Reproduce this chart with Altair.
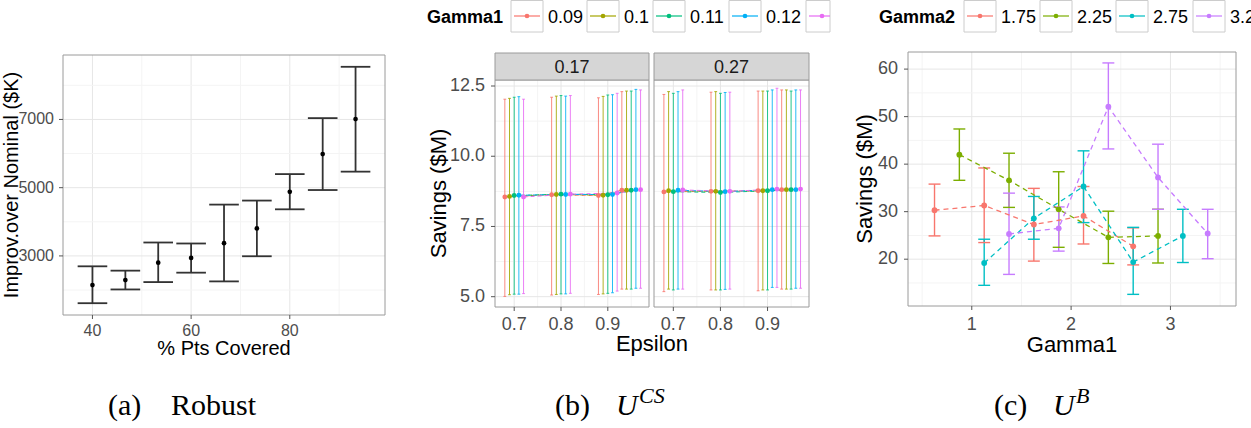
import altair as alt
import pandas as pd

# ======================= DATA =======================
# (a) Robust
a_pct_covered = [40, 46.67, 53.33, 60, 66.67, 73.33, 80, 86.67, 93.33]
a_mean = [2145, 2292, 2803, 2941, 3373, 3806, 4877, 5986, 7010]
a_low = [1614, 2017, 2233, 2509, 2253, 2990, 4366, 4931, 5470]
a_high = [2695, 2568, 3393, 3364, 4504, 4622, 5398, 7039, 8543]
a_xticks = [40, 60, 80]
a_yticks = [3000, 5000, 7000]

# (b) U^CS  (rows: Gamma1 level, columns: Epsilon)
b_epsilon = [0.7, 0.8, 0.9, 0.95]
b_gamma1 = ["0.09", "0.1", "0.11", "0.12", "0.13"]
b_facets = ["0.17", "0.27"]
b_mean_017 = [[8.55, 8.63, 8.60, 8.79], [8.57, 8.64, 8.61, 8.79], [8.60, 8.65, 8.63, 8.79],
              [8.61, 8.64, 8.64, 8.81], [8.55, 8.65, 8.69, 8.81]]
b_low_017 = [[5.01, 5.06, 5.08, 5.27], [5.07, 5.08, 5.10, 5.27], [5.09, 5.10, 5.12, 5.27],
             [5.09, 5.10, 5.14, 5.30], [5.11, 5.12, 5.20, 5.30]]
b_high_017 = [[12.03, 12.10, 12.08, 12.30], [12.06, 12.14, 12.13, 12.32], [12.10, 12.16, 12.18, 12.32],
              [12.12, 12.14, 12.19, 12.38], [12.03, 12.16, 12.24, 12.36]]
b_mean_027 = [[8.73, 8.75, 8.77, 8.81], [8.77, 8.75, 8.77, 8.81], [8.74, 8.71, 8.77, 8.81],
              [8.79, 8.74, 8.81, 8.81], [8.80, 8.75, 8.83, 8.83]]
b_low_027 = [[5.18, 5.24, 5.21, 5.27], [5.27, 5.24, 5.24, 5.27], [5.24, 5.24, 5.24, 5.27],
             [5.27, 5.26, 5.33, 5.30], [5.27, 5.27, 5.33, 5.30]]
b_high_027 = [[12.20, 12.28, 12.32, 12.36], [12.30, 12.30, 12.32, 12.36], [12.24, 12.24, 12.32, 12.32],
              [12.30, 12.27, 12.36, 12.36], [12.36, 12.28, 12.42, 12.36]]
b_xticks = [0.7, 0.8, 0.9]
b_yticks = [5.0, 7.5, 10.0, 12.5]

# (c) U^B  (one list per Gamma2 level; Gamma1 positions as plotted)
c_gamma2 = ["1.75", "2.25", "2.75", "3.25"]
c_gamma1 = [[0.625, 1.125, 1.625, 2.125, 2.625], [0.875, 1.375, 1.875, 2.375, 2.875],
            [1.125, 1.625, 2.125, 2.625, 3.125], [1.375, 1.875, 2.375, 2.875, 3.375]]
c_mean = [[30.3, 31.3, 27.3, 29.1, 22.7], [42.0, 36.6, 30.5, 24.6, 24.9],
          [19.2, 28.6, 35.3, 19.4, 24.9], [25.3, 26.5, 52.1, 37.2, 25.4]]
c_low = [[24.9, 23.5, 19.6, 23.2, 18.8], [36.6, 30.9, 22.5, 19.1, 19.2],
         [14.5, 24.2, 27.7, 12.6, 19.3], [16.8, 21.7, 43.2, 30.5, 20.1]]
c_high = [[35.8, 39.2, 34.9, 35.3, 26.6], [47.4, 42.3, 38.4, 30.1, 30.5],
          [24.2, 33.2, 42.8, 26.7, 30.5], [33.9, 31.0, 61.3, 44.2, 30.5]]
c_xticks = [1, 2, 3]
c_yticks = [20, 30, 40, 50, 60]

# ======================= STYLE / LAYOUT =======================
FONT = "Liberation Sans"
SERIF = "Liberation Serif"
PAL_B = ["#F8766D", "#A3A500", "#00BF7D", "#00B0F6", "#E76BF3"]
PAL_C = ["#F8766D", "#7CAE00", "#00BFC4", "#C77CFF"]
GRID_MAJ = "#E6E6E6"
GRID_MIN = "#F4F4F4"
FRAME = "#9A9A9A"
TICK = "#555555"
TXT = "#4D4D4D"

BOX_A = dict(left=63, right=385, top=55, bottom=315)
BOX_BL = dict(left=495, right=649, top=80, bottom=307)
BOX_BR = dict(left=654, right=809, top=80, bottom=307)
BOX_C = dict(left=908, right=1236, top=52, bottom=306)


def lin(dom, rng):
    return alt.Scale(domain=list(dom), range=list(rng), nice=False, zero=False)


def one_row():
    return pd.DataFrame({"k": [0]})


def text(t, x, y, fs, color="black", angle=0, align="center", weight="normal",
         font=FONT, style="normal", baseline="alphabetic"):
    return alt.Chart(pd.DataFrame({"t": [t]})).mark_text(
        font=font, fontSize=fs, color=color, angle=angle, align=align,
        fontWeight=weight, fontStyle=style, baseline=baseline
    ).encode(x=alt.value(x), y=alt.value(y), text="t:N")


def grid(box, xs, ys, xmaj, xmin, ymaj, ymin):
    L = []
    for vals, col in ((xmin, GRID_MIN), (xmaj, GRID_MAJ)):
        L.append(alt.Chart(pd.DataFrame({"gx": vals})).mark_rule(color=col, strokeWidth=1).encode(
            x=alt.X("gx:Q", scale=xs, axis=None),
            y=alt.value(box["top"]), y2=alt.value(box["bottom"])))
    for vals, col in ((ymin, GRID_MIN), (ymaj, GRID_MAJ)):
        L.append(alt.Chart(pd.DataFrame({"gy": vals})).mark_rule(color=col, strokeWidth=1).encode(
            y=alt.Y("gy:Q", scale=ys, axis=None),
            x=alt.value(box["left"]), x2=alt.value(box["right"])))
    return L


def frame(box):
    return alt.Chart(one_row()).mark_rect(fillOpacity=0, stroke=FRAME, strokeWidth=1).encode(
        x=alt.value(box["left"]), x2=alt.value(box["right"]),
        y=alt.value(box["top"]), y2=alt.value(box["bottom"]))


def x_axis(box, xs, vals, labels, fs, base):
    df = pd.DataFrame({"tv": vals, "tl": labels})
    t = alt.Chart(df).mark_rule(color=TICK, strokeWidth=1).encode(
        x=alt.X("tv:Q", scale=xs, axis=None),
        y=alt.value(box["bottom"]), y2=alt.value(box["bottom"] + 4))
    l = alt.Chart(df).mark_text(font=FONT, fontSize=fs, color=TXT, align="center",
                                baseline="alphabetic").encode(
        x=alt.X("tv:Q", scale=xs, axis=None), y=alt.value(base), text="tl:N")
    return [t, l]


def y_axis(box, ys, vals, labels, fs, right):
    df = pd.DataFrame({"tv": vals, "tl": labels})
    t = alt.Chart(df).mark_rule(color=TICK, strokeWidth=1).encode(
        y=alt.Y("tv:Q", scale=ys, axis=None),
        x=alt.value(box["left"] - 4), x2=alt.value(box["left"]))
    l = alt.Chart(df).mark_text(font=FONT, fontSize=fs, color=TXT, align="right",
                                baseline="middle").encode(
        y=alt.Y("tv:Q", scale=ys, axis=None), x=alt.value(right), text="tl:N")
    return [t, l]


def errorbars(df, xf, xs, ys, colorenc, half, width, opacity=1.0, static_color=None):
    kw = dict(strokeWidth=width, opacity=opacity)
    if static_color:
        kw["color"] = static_color
    enc_c = {} if colorenc is None else {"color": colorenc}
    base = alt.Chart(df).transform_calculate(
        c0=f"datum.{xf} - {half}", c1=f"datum.{xf} + {half}")
    bar = base.mark_rule(**kw).encode(
        x=alt.X(f"{xf}:Q", scale=xs, axis=None),
        y=alt.Y("low:Q", scale=ys, axis=None), y2="high:Q", **enc_c)
    cap_hi = base.mark_rule(**kw).encode(
        x=alt.X("c0:Q", scale=xs, axis=None), x2="c1:Q",
        y=alt.Y("high:Q", scale=ys, axis=None), **enc_c)
    cap_lo = base.mark_rule(**kw).encode(
        x=alt.X("c0:Q", scale=xs, axis=None), x2="c1:Q",
        y=alt.Y("low:Q", scale=ys, axis=None), **enc_c)
    return [bar, cap_hi, cap_lo]


# ======================= PANEL A =======================
a_xs = lin((34.03, 99.3), (BOX_A["left"], BOX_A["right"]))
a_ys = lin((1268, 8889), (BOX_A["bottom"], BOX_A["top"]))
a_df = pd.DataFrame({"pct": a_pct_covered, "mean": a_mean, "low": a_low, "high": a_high})
a_half = 0.45 * (a_pct_covered[1] - a_pct_covered[0])

panel_a = alt.layer(
    *grid(BOX_A, a_xs, a_ys, a_xticks, [50, 70, 90], a_yticks, [2000, 4000, 6000, 8000]),
    *errorbars(a_df, "pct", a_xs, a_ys, None, a_half, 1.8, static_color="#333333"),
    alt.Chart(a_df).mark_circle(color="black", size=22, opacity=1).encode(
        x=alt.X("pct:Q", scale=a_xs, axis=None), y=alt.Y("mean:Q", scale=a_ys, axis=None)),
    frame(BOX_A),
    *x_axis(BOX_A, a_xs, a_xticks, [str(v) for v in a_xticks], 16, 336),
    *y_axis(BOX_A, a_ys, a_yticks, [str(v) for v in a_yticks], 16, 54),
)

# ======================= PANEL B =======================
b_tables = {"0.17": (b_mean_017, b_low_017, b_high_017),
            "0.27": (b_mean_027, b_low_027, b_high_027)}


def b_frame_df(facet):
    m, lo, hi = b_tables[facet]
    rows = []
    for gi, g in enumerate(b_gamma1):
        for ei, e in enumerate(b_epsilon):
            rows.append(dict(gamma1=g, eps=e, eps_d=round(e + (gi - 2) * 0.01, 4),
                             mean=m[gi][ei], low=lo[gi][ei], high=hi[gi][ei]))
    return pd.DataFrame(rows)


b_ydom = (4.633, 12.714)
b_color = alt.Color("gamma1:N", scale=alt.Scale(domain=b_gamma1, range=PAL_B), legend=None)
b_panels = []
for facet, box, first in ((b_facets[0], BOX_BL, True), (b_facets[1], BOX_BR, False)):
    xs = lin((0.659, 0.988), (box["left"], box["right"]))
    ys = lin(b_ydom, (box["bottom"], box["top"]))
    df = b_frame_df(facet)
    layers = grid(box, xs, ys, b_xticks, [0.75, 0.85, 0.95], b_yticks, [6.25, 8.75, 11.25])
    layers += errorbars(df, "eps_d", xs, ys, b_color, 0.003, 1.0, opacity=0.85)
    layers.append(alt.Chart(df).mark_line(strokeDash=[4, 3], strokeWidth=1).encode(
        x=alt.X("eps_d:Q", scale=xs, axis=None), y=alt.Y("mean:Q", scale=ys, axis=None),
        color=b_color, detail="gamma1:N"))
    layers.append(alt.Chart(df).mark_circle(size=24, opacity=1).encode(
        x=alt.X("eps_d:Q", scale=xs, axis=None), y=alt.Y("mean:Q", scale=ys, axis=None),
        color=b_color))
    layers.append(frame(box))
    # strip
    layers.append(alt.Chart(one_row()).mark_rect(fill="#D6D6D6", stroke=FRAME, strokeWidth=1).encode(
        x=alt.value(box["left"]), x2=alt.value(box["right"]), y=alt.value(53), y2=alt.value(box["top"])))
    layers.append(text(facet, (box["left"] + box["right"]) / 2, 72.7, 18, color="#1A1A1A"))
    layers += x_axis(box, xs, b_xticks, [str(v) for v in b_xticks], 18, 329.5)
    if first:
        layers += y_axis(box, ys, b_yticks, [f"{v:.1f}" for v in b_yticks], 18, 485)
    b_panels.append(alt.layer(*layers))

# ======================= PANEL C =======================
c_rows = []
for gi, g in enumerate(c_gamma2):
    for j in range(len(c_gamma1[gi])):
        c_rows.append(dict(gamma2=g, g1=c_gamma1[gi][j], mean=c_mean[gi][j],
                           low=c_low[gi][j], high=c_high[gi][j]))
c_df = pd.DataFrame(c_rows)
c_xs = lin((0.358, 3.66), (BOX_C["left"], BOX_C["right"]))
c_ys = lin((10.15, 63.6), (BOX_C["bottom"], BOX_C["top"]))
c_color = alt.Color("gamma2:N", scale=alt.Scale(domain=c_gamma2, range=PAL_C), legend=None)

panel_c = alt.layer(
    *grid(BOX_C, c_xs, c_ys, c_xticks, [0.5, 1.5, 2.5, 3.5], c_yticks, [15, 25, 35, 45, 55]),
    *errorbars(c_df, "g1", c_xs, c_ys, c_color, 0.06, 1.4),
    alt.Chart(c_df).mark_line(strokeDash=[5, 4], strokeWidth=1.3).encode(
        x=alt.X("g1:Q", scale=c_xs, axis=None), y=alt.Y("mean:Q", scale=c_ys, axis=None),
        color=c_color, detail="gamma2:N"),
    alt.Chart(c_df).mark_circle(size=34, opacity=1).encode(
        x=alt.X("g1:Q", scale=c_xs, axis=None), y=alt.Y("mean:Q", scale=c_ys, axis=None),
        color=c_color),
    frame(BOX_C),
    *x_axis(BOX_C, c_xs, c_xticks, [str(v) for v in c_xticks], 18, 329.5),
    *y_axis(BOX_C, c_ys, c_yticks, [str(v) for v in c_yticks], 18, 898),
)


# ======================= LEGENDS =======================
def legend(title, labels, colors, title_x, box_lefts, crop_x):
    L = [text(title, title_x, 22.7, 18, weight="bold", align="left")]
    df = pd.DataFrame({
        "lab": labels, "col": colors, "bx": box_lefts,
        "bx2": [min(b + 32, crop_x) for b in box_lefts],
        "lx1": [b + 3 for b in box_lefts],
        "lx2": [min(b + 29, crop_x) for b in box_lefts],
        "cx": [b + 16 for b in box_lefts],
        "tx": [b + 37 for b in box_lefts],
        "room": [crop_x - (b + 37) for b in box_lefts],
    })
    base = alt.Chart(df)
    L.append(base.mark_rect(fill="white", stroke="#CCCCCC", strokeWidth=1).encode(
        x=alt.X("bx:Q", scale=None, axis=None), x2="bx2:Q", y=alt.value(0.5), y2=alt.value(32)))
    L.append(base.mark_rule(strokeWidth=1.2).encode(
        x=alt.X("lx1:Q", scale=None, axis=None), x2="lx2:Q", y=alt.value(16),
        color=alt.Color("col:N", scale=None, legend=None)))
    L.append(base.mark_circle(size=22, opacity=1).encode(
        x=alt.X("cx:Q", scale=None, axis=None), y=alt.value(16),
        color=alt.Color("col:N", scale=None, legend=None)))
    L.append(base.transform_filter("datum.room > 8").mark_text(
        font=FONT, fontSize=18, align="left", baseline="alphabetic", color="black").encode(
        x=alt.X("tx:Q", scale=None, axis=None), y=alt.value(22.7), text="lab:N"))
    return L


legend_b = legend("Gamma1", b_gamma1, PAL_B, 427, [511, 587, 653, 729, 806], 830)
legend_c = legend("Gamma2", c_gamma2, PAL_C, 879, [964, 1040, 1116, 1193], 1251)

# ======================= TITLES & CAPTIONS =======================
titles = [
    text("% Pts Covered", 224, 355, 20),
    text("Improv.over Nominal ($K)", 18, 185, 20, angle=270),
    text("Savings ($M)", 446, 193.5, 22, angle=270),
    text("Epsilon", 652, 351, 22),
    text("Savings ($M)", 872, 179, 22, angle=270),
    text("Gamma1", 1072, 352, 22),
]
CAP_Y = 415
CAP_FS = 30
SUP_FS = 22
captions = [
    text("(a)", 108, CAP_Y, CAP_FS, font=SERIF, align="left"),
    text("Robust", 171, CAP_Y, CAP_FS, font=SERIF, align="left"),
    text("(b)", 555, CAP_Y, CAP_FS, font=SERIF, align="left"),
    text("U", 616, CAP_Y, CAP_FS, font=SERIF, align="left", style="italic"),
    text("CS", 639, CAP_Y - 12, SUP_FS, font=SERIF, align="left", style="italic"),
    text("(c)", 994, CAP_Y, CAP_FS, font=SERIF, align="left"),
    text("U", 1053, CAP_Y, CAP_FS, font=SERIF, align="left", style="italic"),
    text("B", 1076, CAP_Y - 12, SUP_FS, font=SERIF, align="left", style="italic"),
]

chart = alt.layer(
    panel_a, *b_panels, panel_c, *legend_b, *legend_c, *titles, *captions
).resolve_scale(
    x="independent", y="independent", color="independent"
).properties(
    width=1251, height=428, padding=0,
    autosize=alt.AutoSizeParams(type="none"), background="white"
).configure_view(strokeWidth=0)

chart.save("out.html", embed_options={"renderer": "svg", "actions": False})
